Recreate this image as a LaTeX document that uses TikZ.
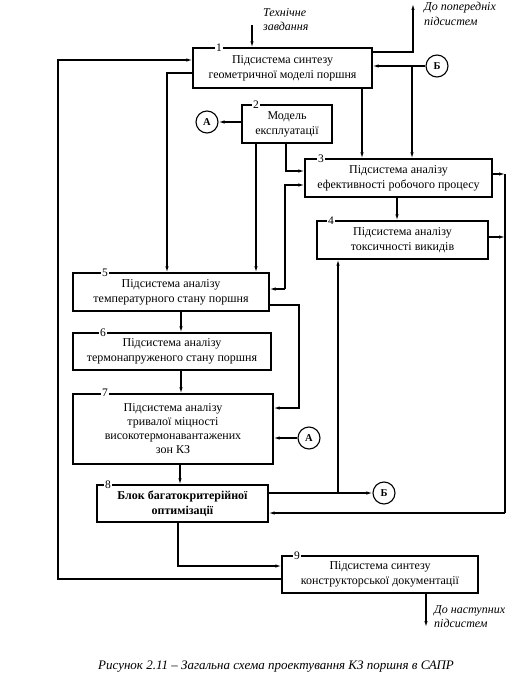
\documentclass[tikz,border=0pt]{standalone}
\usepackage{fontspec}
\setmainfont{Liberation Serif}
\usetikzlibrary{arrows.meta}
\begin{document}
\begin{tikzpicture}[x=1pt,y=-1pt,
  blk/.style={draw, line width=1.3pt, align=center, inner sep=0pt, font=\fontsize{12}{15}\selectfont},
  num/.style={fill=white, inner sep=1.5pt, font=\fontsize{11.5}{12}\selectfont},
  ln/.style={line width=1.1pt},
  con/.style={line width=1.1pt, -{Latex[length=6pt,width=3.4pt]}},
  circ/.style={draw, circle, minimum size=22pt, inner sep=0pt, line width=1.1pt, font=\fontsize{10.5}{12}\selectfont\bfseries},
  note/.style={align=left, inner sep=0pt, font=\fontsize{12}{14.5}\selectfont\itshape}
]
\useasboundingbox (0,0) rectangle (530,687);

% blocks
\node[blk, minimum width=179pt, minimum height=40pt] (b1) at (282.5,68) {Підсистема синтезу\\геометричної моделі поршня};
\node[blk, minimum width=90pt, minimum height=38pt] (b2) at (287,124) {Модель\\експлуатації};
\node[blk, minimum width=187pt, minimum height=38pt] (b3) at (398.5,178) {Підсистема аналізу\\ефективності робочого процесу};
\node[blk, minimum width=171pt, minimum height=38pt] (b4) at (402.5,240) {Підсистема аналізу\\токсичності викидів};
\node[blk, minimum width=196pt, minimum height=38pt] (b5) at (171,292) {Підсистема аналізу\\температурного стану поршня};
\node[blk, minimum width=198pt, minimum height=37pt] (b6) at (172,351.5) {Підсистема аналізу\\термонапруженого стану поршня};
\node[blk, minimum width=200pt, minimum height=70pt, font=\fontsize{12}{14}\selectfont] (b7) at (173,429) {Підсистема аналізу\\тривалої міцності\\високотермонавантажених\\зон КЗ};
\node[blk, minimum width=171pt, minimum height=37pt, font=\fontsize{12}{15}\selectfont\bfseries] (b8) at (182.5,503.5) {Блок багатокритерійної\\оптимізації};
\node[blk, minimum width=196pt, minimum height=37pt] (b9) at (380,574.5) {Підсистема синтезу\\конструкторської документації};

% numbers
\node[num] (n1) at (219,48) {1};
\node[num] (n2) at (256,105) {2};
\node[num] (n3) at (321,159) {3};
\node[num] (n4) at (331,221) {4};
\node[num] (n5) at (105,273) {5};
\node[num] (n6) at (103,333) {6};
\node[num] (n7) at (105,393) {7};
\node[num] (n8) at (108,485) {8};
\node[num] (n9) at (297,556) {9};

% circles
\node[circ] (a1) at (207,122) {А};
\node[circ] (a2) at (309,438) {А};
\node[circ] (g1) at (437,66) {Б};
\node[circ] (g2) at (384,493) {Б};

% notes
\node[note, anchor=north west] (t1) at (263,8) {Технічне\\завдання};
\node[note, anchor=north west] (t2) at (424,2) {До попередніх\\підсистем};
\node[note, anchor=north west] (t3) at (434,605) {До наступних\\підсистем};
\node[font=\fontsize{13}{15}\selectfont\itshape] (cap) at (276,667) {Рисунок 2.11 – Загальна схема проектування КЗ поршня в САПР};

% coordinates
\coordinate (tin) at (252,25);
\coordinate (tout) at (413,4);
\coordinate (bout) at (426,627);
\coordinate (jb1) at (412,66);
\coordinate (jb2) at (338,493);

% connectors
\draw[con] (tin) -- (tin |- b1.north);
\draw[con] (b1.east |- 0,52) -| (tout);
\draw[con] (g1.west) -- (b1.east |- g1);
\draw[con] (jb1) -- (jb1 |- b3.north);
\draw[con] (362,0 |- b1.south) -- (362,0 |- b3.north);
\draw[con] (b1.west |- 0,73) -| (167,0 |- b5.north);
\draw[con] (b9.west |- 0,579) -| (58,60) -- (b1.west |- 0,60);
\draw[con] (b2.west |- a1) -- (a1.east);
\draw[con] (256,0 |- b2.south) -- (256,0 |- b5.north);
\draw[con] (286,0 |- b2.south) |- (b3.west |- 0,171);
\draw[con] (285,289) |- (b3.west |- 0,185);
\draw[con] (285,289) -- (b5.east |- 0,289);
\draw[con] (b3.east |- 0,174) -- (505,174);
\draw[ln] (505,174) -- (505,513);
\draw[con] (505,513) -- (b8.east |- 0,513);
\draw[con] (b4.east |- 0,237) -- (505,237);
\draw[con] (397,0 |- b3.south) -- (397,0 |- b4.north);
\draw[con] (181,0 |- b5.south) -- (181,0 |- b6.north);
\draw[con] (181,0 |- b6.south) -- (181,0 |- b7.north);
\draw[con] (180,0 |- b7.south) -- (180,0 |- b8.north);
\draw[con] (b5.east |- 0,305) -| (299,350) |- (b7.east |- 0,408);
\draw[con] (a2.west) -- (b7.east |- a2);
\draw[con] (b8.east |- g2) -- (g2.west);
\draw[con] (jb2) -- (jb2 |- b4.south);
\draw[con] (178,0 |- b8.south) |- (b9.west |- 0,566);
\draw[con] (426,0 |- b9.south) -- (bout);
\end{tikzpicture}
\end{document}
